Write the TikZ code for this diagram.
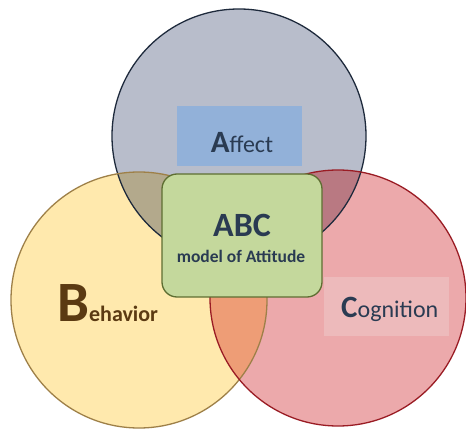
\documentclass[tikz,border=0pt]{standalone}
\usepackage{fontspec}
\setmainfont{Carlito}
\definecolor{affectfill}{HTML}{B8BDCB}
\definecolor{behfill}{HTML}{FFE9AD}
\definecolor{cogfill}{HTML}{ECA9AB}
\definecolor{abfill}{HTML}{B3A98C}
\definecolor{acfill}{HTML}{B97982}
\definecolor{bcfill}{HTML}{EE9D76}
\definecolor{affectline}{HTML}{1E2A3C}
\definecolor{behline}{HTML}{9E8048}
\definecolor{cogline}{HTML}{9A1C24}
\definecolor{abcfill}{HTML}{C4D89C}
\definecolor{abcline}{HTML}{5E6E32}
\definecolor{affectbox}{HTML}{92B1D9}
\definecolor{cogbox}{HTML}{EDBABB}
\definecolor{bluetext}{HTML}{2A3B52}
\definecolor{browntext}{HTML}{5B3A12}
\begin{document}
\begin{tikzpicture}[x=1pt,y=-1pt]
  \useasboundingbox[fill=white] (0,0) rectangle (466,430);
  % Circle centres
  \coordinate (affc) at (239,136);
  \coordinate (behc) at (139,300);
  \coordinate (cogc) at (338,298);
  % Circles
  \fill[affectfill] (affc) circle (127);
  \fill[behfill] (behc) circle (128);
  \fill[cogfill] (cogc) circle (128);
  % Overlaps
  \begin{scope}
    \clip (affc) circle (127);
    \fill[abfill] (behc) circle (128);
    \fill[acfill] (cogc) circle (128);
  \end{scope}
  \begin{scope}
    \clip (behc) circle (128);
    \fill[bcfill] (cogc) circle (128);
  \end{scope}
  % Outlines
  \draw[affectline, line width=1.3] (affc) circle (127);
  \draw[behline, line width=1.3] (behc) circle (128);
  \draw[cogline, line width=1.3] (cogc) circle (128);
  % Affect
  \node[fill=affectbox, minimum width=125, minimum height=60] (affectbox) at (239.5,136) {};
  \node[anchor=base, text=bluetext] (affect) at (242,153)
    {{\bfseries\fontsize{31}{31}\selectfont A}{\fontsize{24}{24}\selectfont ffect}};
  % ABC box
  \node[draw=abcline, fill=abcfill, line width=1.3, rounded corners=15,
    minimum width=160, minimum height=123] (abcbox) at (242,235.5) {};
  \node[anchor=base, text=bluetext, font=\bfseries\fontsize{34}{34}\selectfont] (abc) at (242,237) {ABC};
  \node[anchor=base, text=bluetext, font=\bfseries\fontsize{17.5}{17.5}\selectfont] (model) at (241,263) {model of Attitude};
  % Behavior
  \node[anchor=base west, inner sep=0, text=browntext, font=\bfseries] (behavior) at (57,322)
    {{\fontsize{57}{57}\selectfont B}{\fontsize{22}{22}\selectfont ehavior}};
  % Cognition
  \node[fill=cogbox, minimum width=125, minimum height=59] (cogbox) at (386.5,306.5) {};
  \node[anchor=base west, inner sep=0, text=bluetext] (cognition) at (341,318)
    {{\bfseries\fontsize{31}{31}\selectfont C}{\fontsize{24}{24}\selectfont ognition}};
\end{tikzpicture}
\end{document}
